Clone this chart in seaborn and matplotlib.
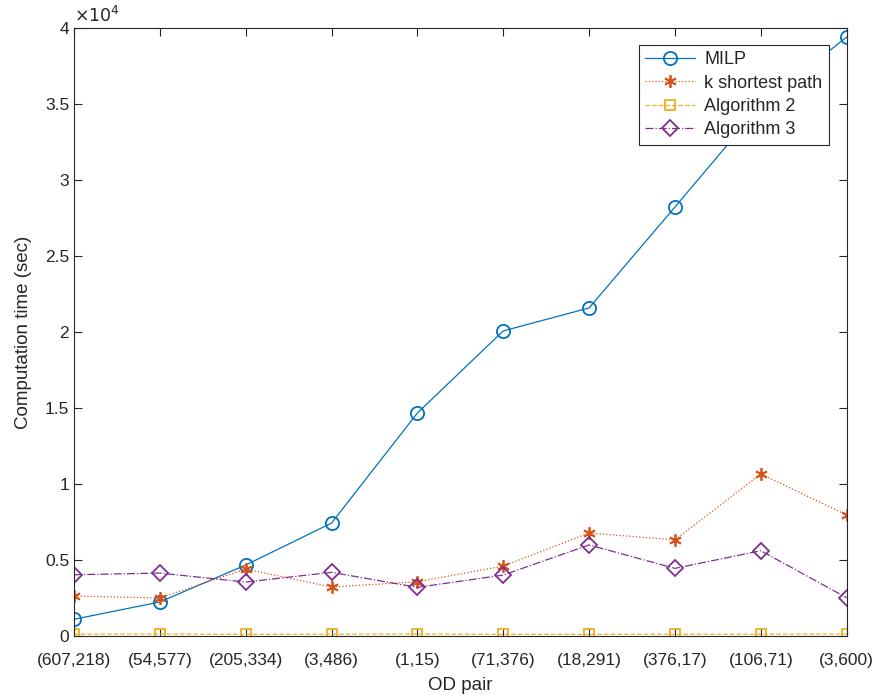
import matplotlib
matplotlib.use("Agg")
import matplotlib.pyplot as plt
from matplotlib.ticker import FixedLocator, FuncFormatter
import seaborn as sns

od_pairs = ["(607,218)", "(54,577)", "(205,334)", "(3,486)", "(1,15)",
            "(71,376)", "(18,291)", "(376,17)", "(106,71)", "(3,600)"]
milp = [1100, 2240, 4670, 7430, 14670, 20070, 21580, 28220, 34900, 39400]
k_shortest = [2630, 2500, 4400, 3220, 3570, 4600, 6780, 6320, 10660, 7960]
algorithm2 = [120, 130, 110, 120, 130, 110, 110, 120, 120, 130]
algorithm3 = [4030, 4140, 3550, 4190, 3200, 4010, 5990, 4450, 5610, 2520]

sns.set_style("ticks")
plt.rcParams["font.family"] = ["Liberation Sans", "DejaVu Sans"]

fig = plt.figure(figsize=(8.81, 6.98), dpi=100)
ax = fig.add_axes([0.084, 0.0888, 0.877, 0.8712])

positions = list(range(1, len(od_pairs) + 1))
asterisk = (6, 2, 0)
series = [
    ("MILP", milp, "#0072BD", "-", "o", 9.5),
    ("k shortest path", k_shortest, "#D95319", ":", asterisk, 9),
    ("Algorithm 2", algorithm2, "#EDB120", "--", "s", 7),
    ("Algorithm 3", algorithm3, "#7E2F8E", "-.", "D", 8.5),
]
for name, vals, col, ls, mk, ms in series:
    sns.lineplot(x=positions, y=vals, ax=ax, color=col, linestyle=ls,
                 linewidth=0.9, marker=mk, markersize=ms,
                 markerfacecolor="none", markeredgecolor=col,
                 markeredgewidth=1.3, label=name)

ax.set_xlim(1, 10)
ax.set_ylim(0, 40000)
ax.xaxis.set_major_locator(FixedLocator(positions))
ax.set_xticklabels(od_pairs)
ax.yaxis.set_major_locator(FixedLocator([i * 5000 for i in range(9)]))
ax.yaxis.set_major_formatter(FuncFormatter(lambda v, p: f"{v / 1e4:g}"))

edge = "#262626"
for sp in ax.spines.values():
    sp.set_visible(True)
    sp.set_color(edge)
    sp.set_linewidth(0.8)
ax.tick_params(direction="in", length=6, width=0.8, color=edge,
               labelcolor="#262626", labelsize=12.5, top=True, right=True)
ax.tick_params(axis="x", pad=12)

ax.set_xlabel("OD pair", fontsize=13.5, color="#262626", labelpad=7)
ax.set_ylabel("Computation time (sec)", fontsize=13.5, color="#262626", labelpad=9)
ax.text(0.0, 1.004, r"$\times10^{4}$", transform=ax.transAxes,
        fontsize=12.5, color="#262626", ha="left", va="bottom")

leg = ax.legend(loc="upper right", bbox_to_anchor=(0.977, 0.972),
                fontsize=13, frameon=True, fancybox=False, framealpha=1,
                edgecolor=edge, borderpad=0.35, labelspacing=0.35,
                handlelength=2.8, handletextpad=0.5, borderaxespad=0)
leg.get_frame().set_linewidth(0.8)

fig.savefig("out.png", dpi=100)
